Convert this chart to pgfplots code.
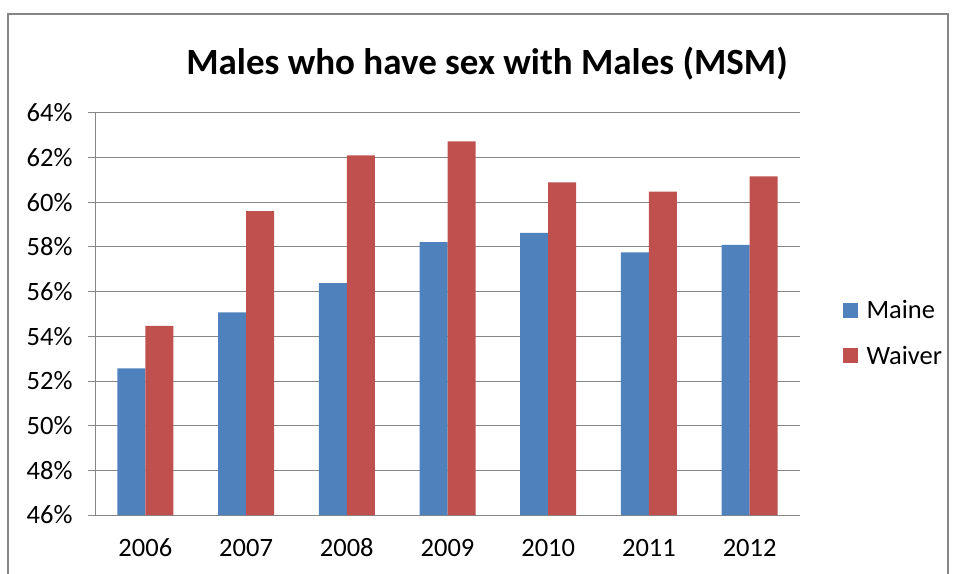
\documentclass[border=0pt]{standalone}
\usepackage{pgfplots}
\pgfplotsset{compat=1.18}
\usepackage{fontspec}
\setmainfont{Carlito}
\definecolor{mblue}{HTML}{4F81BD}
\definecolor{wred}{HTML}{C0504D}
\definecolor{gridgray}{HTML}{868686}
\begin{document}
\begin{tikzpicture}[x=1pt,y=1pt]
\useasboundingbox (0,0) rectangle (955,573);
\draw[color=gridgray, line width=1.5pt] (8,-10) -- (8,559) -- (948,559) -- (948,-10);
\node[font=\fontsize{37}{44}\selectfont\bfseries] at (487,509) {Males who have sex with Males (MSM)};
\begin{axis}[at={(95pt,58pt)}, anchor=south west, scale only axis,
  width=705pt, height=402pt,
  ybar=0pt, bar width=28pt,
  xmin=-0.5, xmax=6.5, ymin=46, ymax=64,
  ytick={46,48,...,64},
  yticklabel={\pgfmathprintnumber[assume math mode=true]{\tick}\%},
  xtick={0,...,6},
  xticklabels={2006,2007,2008,2009,2010,2011,2012},
  xtick pos=bottom, ytick pos=left,
  typeset ticklabels with strut,
  x tick label style={yshift=-10pt},
  major x tick style={draw=none},
  extra x ticks={-0.5,0.5,1.5,2.5,3.5,4.5,5.5,6.5},
  extra x tick labels={},
  extra x tick style={major tick length=8pt, tick align=outside, grid=none, major tick style={draw=gridgray, line width=1pt}},
  tick align=outside, major tick length=7pt,
  ytick style={draw=gridgray, line width=1pt},
  ymajorgrids, grid style={gridgray, line width=1pt},
  axis x line*=bottom, axis y line*=left,
  axis line style={gridgray, line width=1pt, -},
  tick label style={font=\fontsize{26.5}{30}\selectfont},
  y tick label style={xshift=-12pt},
  legend style={at={(1.06,0.453)}, anchor=west, draw=none, fill=none, inner sep=0pt,
    font=\fontsize{26.5}{30}\selectfont, row sep=22pt, cells={anchor=west}},
  legend image code/.code={\fill[#1] (0pt,-7.5pt) rectangle (15pt,7.5pt); \path (22pt,0pt);},
]
\addplot[fill=mblue, draw=none] coordinates {(0,52.57) (1,55.07) (2,56.38) (3,58.22) (4,58.63) (5,57.76) (6,58.10)};
\addplot[fill=wred, draw=none] coordinates {(0,54.47) (1,59.61) (2,62.10) (3,62.73) (4,60.89) (5,60.48) (6,61.16)};
\legend{Maine,Waiver}
\end{axis}
\end{tikzpicture}
\end{document}
